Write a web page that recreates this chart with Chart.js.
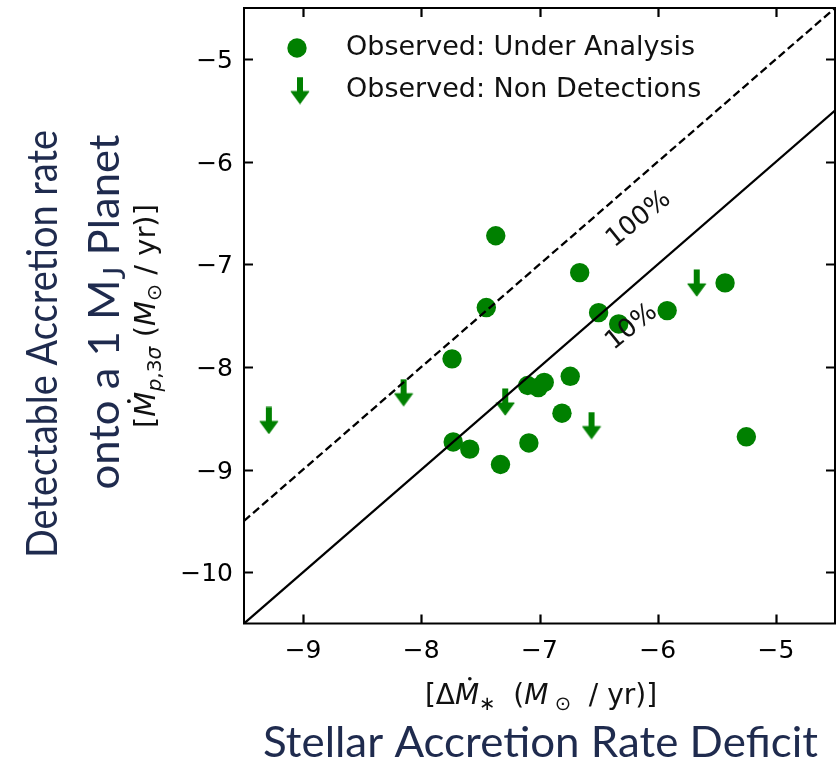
<!DOCTYPE html>
<html>
<head>
<meta charset="utf-8">
<script src="https://cdn.jsdelivr.net/npm/chart.js@4.4.1/dist/chart.umd.min.js"></script>
<style>
  html, body { margin: 0; padding: 0; background: #ffffff; }
  #wrap { width: 837px; height: 761px; position: relative; }
</style>
</head>
<body>
<div id="wrap"><canvas id="chart"></canvas></div>
<script>
// log10 rates in Msun/yr: stellar accretion-rate deficit (x) vs detectable planet accretion rate (y)
const underAnalysisX = [-7.37, -7.45, -7.74, -7.73, -7.59, -7.33, -7.09, -7.10, -7.01, -6.96, -6.74, -6.81, -6.66, -6.50, -6.33, -5.92, -5.43, -5.25];
const underAnalysisY = [-6.72, -7.42, -7.92, -8.73, -8.80, -8.95, -8.74, -8.18, -8.20, -8.15, -8.09, -8.45, -7.08, -7.47, -7.58, -7.45, -7.18, -8.68];
const nonDetectionX = [-9.29, -8.15, -7.29, -6.56, -5.67];
const nonDetectionY = [-8.52, -8.25, -8.34, -8.57, -7.18];

const xRange = [-9.5, -4.5];
const yRange = [-10.5, -4.5];
const xTicks = [-9, -8, -7, -6, -5];
const yTicks = [-10, -9, -8, -7, -6, -5];

// efficiency lines: planet rate = 100% and 10% of the deficit
const lineX = [-9.5, -4.5];
const line100Y = [-9.5, -4.5];
const line10Y = [-10.5, -5.5];
const lineLabels = ['100%', '10%'];
const lineLabelX = [-6.16, -6.22];
const lineLabelY = [-6.56, -7.61];

const seriesNames = ['Observed: Under Analysis', 'Observed: Non Detections'];

const GREEN = '#008000';
const NAVY = '#1f2b4e';
const MONO = "'DejaVu Sans'";

// downward arrow marker for upper limits
function makeArrow() {
  const c = document.createElement('canvas');
  c.width = 20; c.height = 28;
  const g = c.getContext('2d');
  g.fillStyle = GREEN;
  g.strokeStyle = GREEN;
  g.lineJoin = 'round';
  g.lineWidth = 1.2;
  g.fillRect(7, 0.5, 6, 16);
  g.beginPath();
  g.moveTo(1.2, 15);
  g.lineTo(18.8, 15);
  g.lineTo(10, 26.8);
  g.closePath();
  g.fill();
  g.stroke();
  return c;
}
const arrowMarker = makeArrow();

const toPoints = (xs, ys) => xs.map((x, i) => ({ x: x, y: ys[i] }));

// draw a run of text pieces (regular / italic / subscript / dotted) centred on (x, y)
function drawPieces(ctx, pieces, o) {
  const fontFor = p => (p.it ? 'italic ' : '') + (p.sub ? o.size * 0.7 : o.size) + 'px ' + o.family;
  const widths = pieces.map(p => { ctx.font = fontFor(p); return ctx.measureText(p.t).width; });
  const total = widths.reduce((a, b) => a + b, 0);
  const sx = o.width ? o.width / total : 1;
  ctx.save();
  ctx.translate(o.x, o.y);
  ctx.rotate(o.angle || 0);
  ctx.scale(sx, 1);
  ctx.fillStyle = o.color;
  ctx.textAlign = 'left';
  ctx.textBaseline = 'alphabetic';
  let cur = -total / 2;
  pieces.forEach((p, i) => {
    ctx.font = fontFor(p);
    ctx.fillText(p.t, cur, p.sub ? o.size * (o.subDrop || 0.22) : 0);
    if (p.dot) {
      ctx.beginPath();
      ctx.arc(cur + widths[i] * 0.5 + o.size * 0.1, -o.size * 0.9, o.size * 0.065, 0, Math.PI * 2);
      ctx.fill();
    }
    cur += widths[i];
  });
  ctx.restore();
}

const fmt = v => (v < 0 ? '\u2212' : '') + Math.abs(v);

const framePlugin = {
  id: 'frame',
  afterDatasetsDraw(chart) {
    const ctx = chart.ctx;
    const xs = chart.scales.x, ys = chart.scales.y;
    // labels along the efficiency lines
    ctx.save();
    ctx.fillStyle = '#111';
    ctx.font = '26px ' + MONO;
    ctx.textAlign = 'center';
    ctx.textBaseline = 'middle';
    lineLabels.forEach((t, i) => {
      ctx.save();
      ctx.translate(xs.getPixelForValue(lineLabelX[i]), ys.getPixelForValue(lineLabelY[i]));
      ctx.rotate(-39 * Math.PI / 180);
      ctx.fillText(t, 0, 0);
      ctx.restore();
    });
    ctx.restore();
  },
  afterDraw(chart) {
    const ctx = chart.ctx;
    const a = chart.chartArea;
    const xs = chart.scales.x, ys = chart.scales.y;
    ctx.save();
    // frame
    ctx.strokeStyle = '#000';
    ctx.lineWidth = 2;
    ctx.strokeRect(a.left, a.top, a.right - a.left, a.bottom - a.top);
    // inward ticks on all four sides
    ctx.lineWidth = 2.2;
    const L = 9;
    ctx.beginPath();
    xTicks.forEach(v => {
      const px = Math.round(xs.getPixelForValue(v)) + 0.5;
      ctx.moveTo(px, a.bottom); ctx.lineTo(px, a.bottom - L);
      ctx.moveTo(px, a.top); ctx.lineTo(px, a.top + L);
    });
    yTicks.forEach(v => {
      const py = Math.round(ys.getPixelForValue(v)) + 0.5;
      ctx.moveTo(a.left, py); ctx.lineTo(a.left + L, py);
      ctx.moveTo(a.right, py); ctx.lineTo(a.right - L, py);
    });
    ctx.stroke();
    // tick labels
    ctx.fillStyle = '#000';
    ctx.font = '25px ' + MONO;
    ctx.textBaseline = 'alphabetic';
    ctx.textAlign = 'center';
    xTicks.forEach(v => ctx.fillText(fmt(v), xs.getPixelForValue(v), a.bottom + 34));
    ctx.textAlign = 'right';
    yTicks.forEach(v => ctx.fillText(fmt(v), a.left - 11, ys.getPixelForValue(v) + 9));

    // legend
    const ds = chart.data.datasets;
    ctx.fillStyle = ds[0].backgroundColor;
    ctx.beginPath();
    ctx.arc(297, 48, ds[0].pointRadius, 0, Math.PI * 2);
    ctx.fill();
    ctx.drawImage(ds[1].pointStyle, 300 - arrowMarker.width / 2, 90.5 - arrowMarker.height / 2);
    ctx.fillStyle = '#111';
    ctx.font = '27px ' + MONO;
    ctx.textAlign = 'left';
    ctx.fillText(ds[0].label, 346, 54.5);
    ctx.fillText(ds[1].label, 346, 96.5);

    // axis titles (mathtext-style)
    drawPieces(ctx, [
      { t: '[' }, { t: '\u0394' }, { t: 'M', it: true, dot: true }, { t: '\u2217', sub: true },
      { t: '  (' }, { t: 'M', it: true }, { t: ' \u2299', sub: true }, { t: '  / yr)]' }
    ], { x: 541, y: 704, size: 28, family: MONO, color: '#111' });
    drawPieces(ctx, [
      { t: '[' }, { t: 'M', it: true, dot: true }, { t: 'p', it: true, sub: true }, { t: ',3', sub: true },
      { t: '\u03c3', it: true, sub: true }, { t: ' (' }, { t: 'M', it: true }, { t: '\u2299', sub: true }, { t: ' / yr)]' }
    ], { x: 155, y: 316, size: 29, family: MONO, color: '#111', angle: -Math.PI / 2 });

    // descriptive titles
    drawPieces(ctx, [{ t: 'Stellar Accretion Rate Deficit' }],
      { x: 540.5, y: 757, size: 43, family: 'Lato', color: NAVY, width: 555 });
    drawPieces(ctx, [{ t: 'Detectable Accretion rate' }],
      { x: 57, y: 344, size: 43, family: 'Lato', color: NAVY, width: 428, angle: -Math.PI / 2 });
    drawPieces(ctx, [{ t: 'onto a 1 M' }, { t: 'J', sub: true }, { t: ' Planet' }],
      { x: 119, y: 312, size: 43, family: 'Lato', color: NAVY, width: 355, angle: -Math.PI / 2, subDrop: 0.15 });
    ctx.restore();
  }
};

new Chart(document.getElementById('chart'), {
  type: 'scatter',
  data: {
    datasets: [
      {
        label: seriesNames[0],
        data: toPoints(underAnalysisX, underAnalysisY),
        backgroundColor: GREEN,
        borderWidth: 0,
        pointStyle: 'circle',
        pointRadius: 9.7,
        order: 2
      },
      {
        label: seriesNames[1],
        data: toPoints(nonDetectionX, nonDetectionY),
        pointStyle: arrowMarker,
        pointRadius: 10,
        order: 2
      },
      {
        type: 'line',
        label: lineLabels[0],
        data: toPoints(lineX, line100Y),
        borderColor: '#000',
        borderWidth: 2.3,
        borderDash: [8, 4],
        pointRadius: 0,
        fill: false,
        order: 1
      },
      {
        type: 'line',
        label: lineLabels[1],
        data: toPoints(lineX, line10Y),
        borderColor: '#000',
        borderWidth: 2.3,
        pointRadius: 0,
        fill: false,
        order: 1
      }
    ]
  },
  options: {
    responsive: true,
    maintainAspectRatio: false,
    animation: false,
    devicePixelRatio: 1,
    layout: { autoPadding: false, padding: { left: 244, top: 8, right: 2, bottom: 137.5 } },
    plugins: { legend: { display: false }, tooltip: { enabled: false } },
    scales: {
      x: { type: 'linear', min: xRange[0], max: xRange[1], display: false },
      y: { type: 'linear', min: yRange[0], max: yRange[1], display: false }
    }
  },
  plugins: [framePlugin]
});
</script>
</body>
</html>
